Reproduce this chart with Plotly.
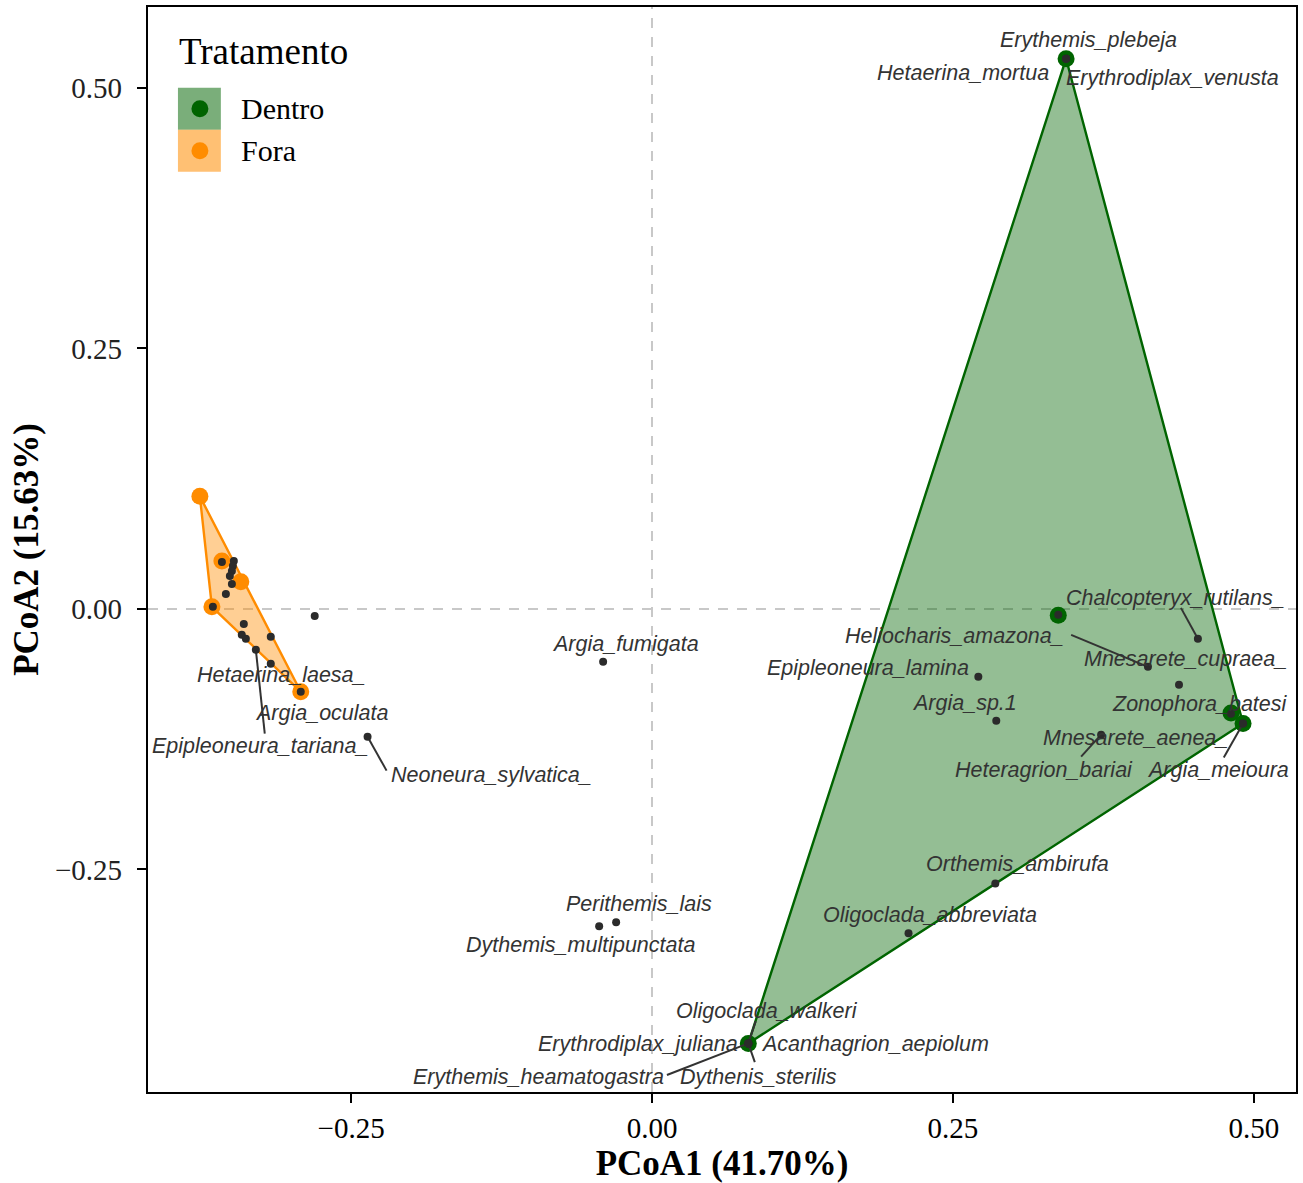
import plotly.graph_objects as go

# ---------------- data ----------------
# site scores (PCoA) by treatment
dentro_x = [0.344, 0.3375, 0.481, 0.491, 0.080]
dentro_y = [0.528, -0.006, -0.100, -0.110, -0.417]
fora_x = [-0.3756, -0.3573, -0.3416, -0.3656, -0.2918]
fora_y = [0.108, 0.046, 0.026, 0.002, -0.0795]

# species scores and labels
sp_names = [
    "Erythemis_plebeja", "Hetaerina_mortua", "Erythrodiplax_venusta",
    "Chalcopteryx_rutilans_", "Heliocharis_amazona_", "Mnesarete_cupraea_",
    "Epipleoneura_lamina", "Argia_sp.1", "Zonophora_batesi", "Mnesarete_aenea_",
    "Argia_meioura", "Heteragrion_bariai", "Orthemis_ambirufa",
    "Oligoclada_abbreviata", "Argia_fumigata", "Perithemis_lais",
    "Dythemis_multipunctata", "Oligoclada_walkeri", "Erythrodiplax_juliana",
    "Acanthagrion_aepiolum", "Erythemis_heamatogastra", "Dythenis_sterilis",
    "Hetaerina_laesa_", "Argia_oculata", "Epipleoneura_tariana_",
    "Neoneura_sylvatica_",
]
sp_x = [0.344, 0.344, 0.344, 0.4535, 0.412, 0.4378, 0.2711, 0.286, 0.481, 0.491,
        0.491, 0.3731, 0.2852, 0.2131, -0.0406, -0.0298, -0.0439, 0.080, 0.080,
        0.080, 0.080, 0.080, -0.3167, -0.2918, -0.3291, -0.2363]
sp_y = [0.528, 0.528, 0.528, -0.0287, -0.0556, -0.0728, -0.0651, -0.1073, -0.1006, -0.110,
        -0.110, -0.1207, -0.2634, -0.3113, -0.0508, -0.3008, -0.3046, -0.417, -0.417,
        -0.417, -0.417, -0.417, -0.0527, -0.0795, -0.0393, -0.1226]
# repelled label positions
lab_x = [0.3623, 0.2587, 0.4328, 0.4353, 0.2512, 0.4435, 0.1791, 0.2595, 0.4552, 0.4013,
         0.4701, 0.3258, 0.3034, 0.2313, -0.0224, -0.0108, -0.0597, 0.0953, -0.0116,
         0.1849, -0.0945, 0.0887, -0.3076, -0.2744, -0.3258, -0.1335]
lab_y = [0.546, 0.5144, 0.5096, 0.0105, -0.0259, -0.0479, -0.0565, -0.090, -0.091, -0.1236,
         -0.1542, -0.1542, -0.2452, -0.294, -0.0335, -0.2835, -0.3228, -0.386, -0.4176,
         -0.4176, -0.4492, -0.4492, -0.0632, -0.0996, -0.1312, -0.159]
# leader segment end points (None = no segment)
seg_x = [None, None, None, 0.4394, 0.3482, None, None, None, None, None,
         0.475, 0.3565, None, None, None, None, None, 0.0862, None,
         None, 0.0124, 0.0854, None, None, -0.3217, -0.2205]
seg_y = [None, None, None, 0.001, -0.0249, None, None, None, None, None,
         -0.1427, -0.1418, None, None, None, None, None, -0.3956, None,
         None, -0.4473, -0.4349, None, None, -0.1197, -0.1552]

# unlabeled species points
extra_x = [-0.3573, -0.3474, -0.3482, -0.349, -0.3507, -0.349, -0.354, -0.3648,
           -0.3391, -0.3408, -0.3374, -0.3167, -0.2802, 0.3375]
extra_y = [0.045, 0.046, 0.0412, 0.0364, 0.0316, 0.024, 0.0144, 0.002,
           -0.0144, -0.0249, -0.0287, -0.0268, -0.0067, -0.0057]

x_ticks = [-0.25, 0.0, 0.25, 0.50]
y_ticks = [-0.25, 0.0, 0.25, 0.50]
x_range = [-0.4187, 0.535]
y_range = [-0.4636, 0.5776]

treat_names = ["Dentro", "Fora"]
treat_line = ["#006400", "#FF8C00"]
treat_fill = ["rgba(0,100,0,0.42)", "rgba(255,140,0,0.42)"]
treat_key = ["rgba(0,100,0,0.52)", "rgba(255,140,0,0.55)"]


def hull(xs, ys):
    pts = sorted(set(zip(xs, ys)))
    if len(pts) < 3:
        return pts

    def cross(o, a, b):
        return (a[0] - o[0]) * (b[1] - o[1]) - (a[1] - o[1]) * (b[0] - o[0])

    lower, upper = [], []
    for p in pts:
        while len(lower) >= 2 and cross(lower[-2], lower[-1], p) <= 0:
            lower.pop()
        lower.append(p)
    for p in reversed(pts):
        while len(upper) >= 2 and cross(upper[-2], upper[-1], p) <= 0:
            upper.pop()
        upper.append(p)
    return lower[:-1] + upper[:-1]


fig = go.Figure()

groups = [(dentro_x, dentro_y), (fora_x, fora_y)]
for (gx, gy), name, lc, fc in zip(groups, treat_names, treat_line, treat_fill):
    h = hull(gx, gy)
    hx = [p[0] for p in h] + [h[0][0]]
    hy = [p[1] for p in h] + [h[0][1]]
    fig.add_trace(go.Scatter(x=hx, y=hy, mode="lines", fill="toself",
                             fillcolor=fc, line=dict(color=lc, width=2.4),
                             showlegend=False, hoverinfo="skip"))

for (gx, gy), name, lc in zip(groups, treat_names, treat_line):
    fig.add_trace(go.Scatter(x=gx, y=gy, mode="markers", name=name,
                             marker=dict(size=17, color=lc), showlegend=False))

# segments
sx, sy = [], []
for px, py, ex, ey in zip(sp_x, sp_y, seg_x, seg_y):
    if ex is not None:
        sx += [px, ex, None]
        sy += [py, ey, None]
fig.add_trace(go.Scatter(x=sx, y=sy, mode="lines",
                         line=dict(color="#333333", width=2),
                         showlegend=False, hoverinfo="skip"))

# species points
fig.add_trace(go.Scatter(x=sp_x + extra_x, y=sp_y + extra_y, mode="markers",
                         marker=dict(size=8, color="#2b2b2b"),
                         showlegend=False))

# labels
for name, lx, ly in zip(sp_names, lab_x, lab_y):
    fig.add_annotation(x=lx, y=ly, text=name, showarrow=False,
                       xanchor="center", yanchor="middle",
                       font=dict(family="Liberation Sans", size=21.5,
                                 color="#333333", style="italic"))

# zero reference lines
fig.add_shape(type="line", x0=0, x1=0, y0=y_range[0], y1=y_range[1],
              line=dict(color="#c8c8c8", width=2, dash="10px,9px"), layer="below")
fig.add_shape(type="line", x0=x_range[0], x1=x_range[1], y0=0, y1=0,
              line=dict(color="#c8c8c8", width=2, dash="10px,9px"), layer="below")

# manual legend (pixel positions inside plot area converted to paper)
L, T, W, H = 148, 5, 1150, 1087


def px2x(p):
    return (p - L) / W


def px2y(p):
    return (T + H - p) / H


fig.add_annotation(x=px2x(177), y=px2y(50), xref="paper", yref="paper",
                   text="Tratamento", showarrow=False, xanchor="left", yanchor="middle",
                   font=dict(family="Liberation Serif", size=37, color="black"))
for i, (name, kc, lc) in enumerate(zip(treat_names, treat_key, treat_line)):
    top = 86 + i * 42
    fig.add_shape(type="rect", xref="paper", yref="paper",
                  x0=px2x(178), x1=px2x(221), y0=px2y(top + 42), y1=px2y(top),
                  fillcolor=kc, line=dict(width=0))
    cy = top + 21
    fig.add_shape(type="circle", xref="paper", yref="paper",
                  x0=px2x(191.5), x1=px2x(208.5), y0=px2y(cy + 8.5), y1=px2y(cy - 8.5),
                  fillcolor=lc, line=dict(width=0))
    fig.add_annotation(x=px2x(239), y=px2y(cy), xref="paper", yref="paper",
                       text=name, showarrow=False, xanchor="left", yanchor="middle",
                       font=dict(family="Liberation Serif", size=30, color="black"))

axis_common = dict(showgrid=False, zeroline=False, showline=True, linecolor="black",
                   linewidth=2.2, mirror=True, ticks="outside", ticklen=9,
                   tickwidth=1.5, tickcolor="black", tickformat=".2f")

fig.update_layout(
    width=1303, height=1183,
    margin=dict(l=L, r=1303 - L - W, t=T, b=1183 - T - H),
    plot_bgcolor="white", paper_bgcolor="white",
    xaxis=dict(range=x_range, tickvals=x_ticks,
               tickfont=dict(family="Liberation Serif", size=29, color="black"),
               title=dict(text="<b>PCoA1 (41.70%)</b>", standoff=10,
                          font=dict(family="Liberation Serif", size=35, color="black")),
               **axis_common),
    yaxis=dict(range=y_range, tickvals=y_ticks, ticklabelstandoff=9,
               tickfont=dict(family="Liberation Serif", size=29, color="#222222"),
               title=dict(text="<b>PCoA2 (15.63%)</b>", standoff=6,
                          font=dict(family="Liberation Serif", size=35, color="black")),
               **axis_common),
    showlegend=False,
)

fig.write_html("out.html",
               config={"displayModeBar": False},
               post_script="document.body.style.margin='0px';"
                           "document.body.style.overflow='hidden';")
